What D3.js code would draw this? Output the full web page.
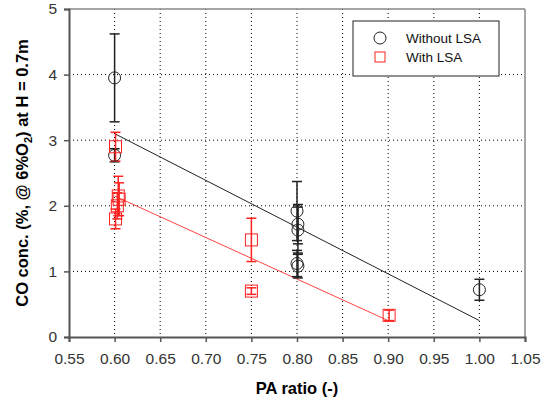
<!DOCTYPE html>
<html>
<head>
<meta charset="utf-8">
<script src="https://cdn.jsdelivr.net/npm/d3@7"></script>
<style>
  body { margin: 0; background: #fff; }
  text { font-family: "Liberation Sans", Arial, sans-serif; }
</style>
</head>
<body>
<svg id="chart" width="548" height="403"></svg>
<script>
// data
var xTicks = [0.55, 0.60, 0.65, 0.70, 0.75, 0.80, 0.85, 0.90, 0.95, 1.00, 1.05];
var yTicks = [0, 1, 2, 3, 4, 5];

var noLsaX = [0.600, 0.600, 0.800, 0.801, 0.801, 0.800, 0.801, 1.000];
var noLsaY = [3.95, 2.77, 1.92, 1.72, 1.63, 1.12, 1.08, 0.72];
var noLsaErr = [0.67, 0.10, 0.45, 0.30, 0.35, 0.20, 0.18, 0.16];

var lsaX = [0.601, 0.604, 0.605, 0.603, 0.601, 0.750, 0.750, 0.901];
var lsaY = [2.90, 2.15, 2.10, 2.00, 1.80, 1.48, 0.70, 0.33];
var lsaErr = [0.22, 0.30, 0.25, 0.20, 0.15, 0.33, 0.05, 0.08];

// fitted lines (end points)
var fitNoLsa = [[0.60, 3.10], [1.00, 0.25]];
var fitLsa = [[0.60, 2.15], [0.90, 0.25]];

var svg = d3.select("#chart");
var pLeft = 69, pRight = 525, pTop = 9, pBottom = 337;

var x = d3.scaleLinear().domain([0.55, 1.05]).range([pLeft, pRight]);
var y = d3.scaleLinear().domain([0, 5]).range([pBottom, pTop]);

function zip(xs, ys, es) {
  return xs.map(function(v, i) { return {x: v, y: ys[i], e: es[i]}; });
}
var black = zip(noLsaX, noLsaY, noLsaErr);
var red = zip(lsaX, lsaY, lsaErr);

/* grid */
var grid = svg.append("g").attr("class", "grid");
grid.selectAll("line.v").data(xTicks.slice(1, -1)).enter().append("line")
    .attr("x1", function(d) { return x(d); }).attr("x2", function(d) { return x(d); })
    .attr("y1", pTop).attr("y2", pBottom)
    .attr("stroke", "#000").attr("stroke-width", 1).attr("stroke-dasharray", "1,3");
grid.selectAll("line.h").data(yTicks.slice(1, -1)).enter().append("line")
    .attr("y1", function(d) { return y(d); }).attr("y2", function(d) { return y(d); })
    .attr("x1", pLeft).attr("x2", pRight)
    .attr("stroke", "#000").attr("stroke-width", 1).attr("stroke-dasharray", "1,3");

/* frame top/right */
svg.append("line").attr("x1", pLeft).attr("x2", pRight).attr("y1", pTop).attr("y2", pTop)
    .attr("stroke", "#888").attr("stroke-width", 1.5);
svg.append("line").attr("x1", pRight).attr("x2", pRight).attr("y1", pTop).attr("y2", pBottom)
    .attr("stroke", "#888").attr("stroke-width", 1.5);

/* axes */
var xAxis = d3.axisBottom(x).tickValues(xTicks).tickFormat(d3.format(".2f")).tickSize(5).tickPadding(11);
var yAxis = d3.axisLeft(y).tickValues(yTicks).tickFormat(d3.format("d")).tickSize(5).tickPadding(7);

var gx = svg.append("g").attr("transform", "translate(0," + pBottom + ")").call(xAxis);
var gy = svg.append("g").attr("transform", "translate(" + pLeft + ",0)").call(yAxis);
[gx, gy].forEach(function(g) {
  g.select(".domain").attr("stroke", "#555").attr("stroke-width", 2);
  g.selectAll(".tick line").attr("stroke", "#555").attr("stroke-width", 1.5);
  g.selectAll(".tick text").attr("font-size", 15.5).attr("fill", "#333")
      .style("font-family", "'Liberation Sans', Arial, sans-serif");
});

/* fit lines */
var line = d3.line().x(function(d) { return x(d[0]); }).y(function(d) { return y(d[1]); });
svg.append("path").attr("d", line(fitNoLsa)).attr("fill", "none").attr("stroke", "#222").attr("stroke-width", 1);
svg.append("path").attr("d", line(fitLsa)).attr("fill", "none").attr("stroke", "#f44").attr("stroke-width", 1);

/* error bars */
function errBars(data, color) {
  var g = svg.append("g");
  var sel = g.selectAll("g").data(data).enter().append("g");
  sel.append("line")
      .attr("x1", function(d) { return x(d.x); }).attr("x2", function(d) { return x(d.x); })
      .attr("y1", function(d) { return y(d.y - d.e); }).attr("y2", function(d) { return y(d.y + d.e); })
      .attr("stroke", color).attr("stroke-width", 1.5);
  [-1, 1].forEach(function(s) {
    sel.append("line")
        .attr("x1", function(d) { return x(d.x) - 5; }).attr("x2", function(d) { return x(d.x) + 5; })
        .attr("y1", function(d) { return y(d.y + s * d.e); }).attr("y2", function(d) { return y(d.y + s * d.e); })
        .attr("stroke", color).attr("stroke-width", 1.5);
  });
}
errBars(black, "#222");
errBars(red, "#f22");

/* markers */
svg.append("g").selectAll("circle").data(black).enter().append("circle")
    .attr("cx", function(d) { return x(d.x); }).attr("cy", function(d) { return y(d.y); })
    .attr("r", 6).attr("fill", "none").attr("stroke", "#222").attr("stroke-width", 1);
svg.append("g").selectAll("rect").data(red).enter().append("rect")
    .attr("x", function(d) { return x(d.x) - 6; }).attr("y", function(d) { return y(d.y) - 6; })
    .attr("width", 12).attr("height", 12)
    .attr("fill", "none").attr("stroke", "#f22").attr("stroke-width", 1);

/* legend */
var lg = svg.append("g");
lg.append("rect").attr("x", 353).attr("y", 21).attr("width", 146).attr("height", 55)
    .attr("fill", "#fff").attr("stroke", "#222").attr("stroke-width", 1);
lg.append("circle").attr("cx", 380).attr("cy", 38).attr("r", 6)
    .attr("fill", "none").attr("stroke", "#222");
lg.append("rect").attr("x", 375).attr("y", 52).attr("width", 10).attr("height", 10)
    .attr("fill", "none").attr("stroke", "#f22");
lg.append("text").attr("x", 406).attr("y", 43).attr("font-size", 13.5).attr("fill", "#111").text("Without LSA");
lg.append("text").attr("x", 406).attr("y", 62).attr("font-size", 13.5).attr("fill", "#111").text("With LSA");

/* axis titles */
svg.append("text").attr("x", (pLeft + pRight) / 2).attr("y", 394)
    .attr("text-anchor", "middle").attr("font-size", 16.5).attr("font-weight", "bold")
    .text("PA ratio (-)");

var yt = svg.append("text").attr("transform", "translate(28," + ((pTop + pBottom) / 2) + ") rotate(-90)")
    .attr("text-anchor", "middle").attr("font-size", 16.5).attr("font-weight", "bold");
yt.append("tspan").text("CO conc. (%, @ 6%O");
yt.append("tspan").attr("font-size", 11).attr("dy", 4).text("2");
yt.append("tspan").attr("dy", -4).text(") at H = 0.7m");
</script>
</body>
</html>
